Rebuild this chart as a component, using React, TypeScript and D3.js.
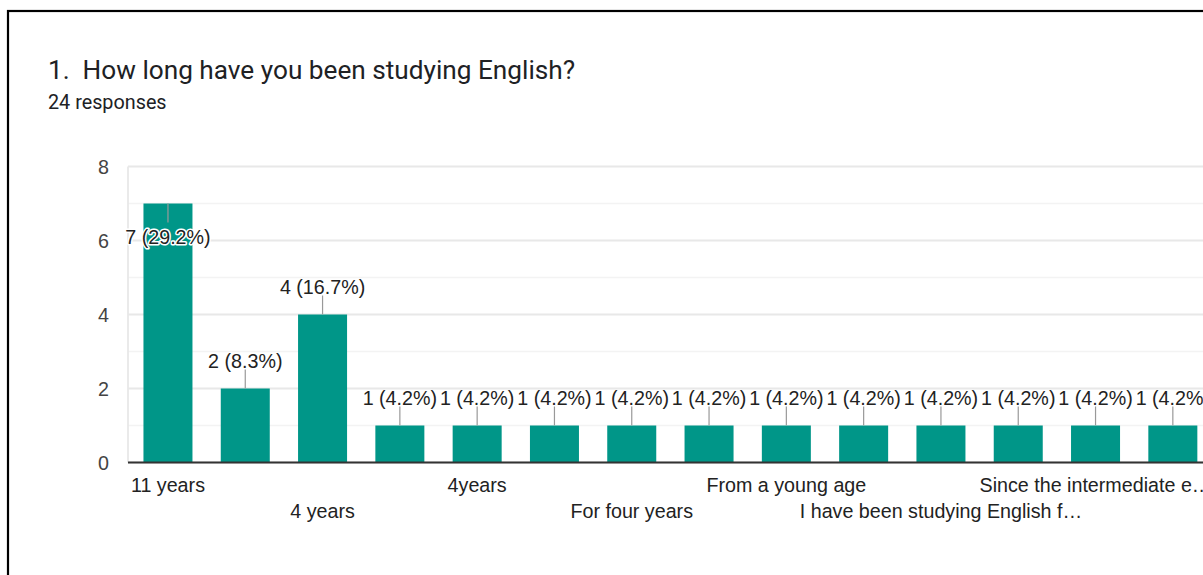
import React from "react";
import * as d3 from "d3";

// Data (Google Forms summary chart)
const title = "1.  How long have you been studying English?";
const subtitle = "24 responses";
const totalResponses = 24;
// Only the even-indexed category names are visible in the reference; the odd ones are hidden there.
const categories = [
  "11 years",
  "3 years",
  "4 years",
  "4 years and a half",
  "4years",
  "Eight years",
  "For four years",
  "Four years",
  "From a young age",
  "Half of my life",
  "I have been studying English f…",
  "More than ten years",
  "Since the intermediate e…",
  "Two years",
];
const values = [7, 2, 4, 1, 1, 1, 1, 1, 1, 1, 1, 1, 1, 1];
const majorTicks = [0, 2, 4, 6, 8];
const minorTicks = [1, 3, 5, 7];

const W = 1203;
const H = 575;
const chartFont = "'Liberation Sans', Arial, sans-serif";
const titleFont = "Roboto, 'Noto Sans', sans-serif";

export default function App() {
  const plotTop = 166.5;
  const plotBottom = 462.5;
  const plotLeft = 128;
  const plotRight = 1212.8;

  const y = d3.scaleLinear().domain([0, 8]).range([plotBottom, plotTop]);
  const x = d3
    .scaleBand<string>()
    .domain(categories)
    .range([plotLeft, plotRight])
    .paddingInner(0.366)
    .paddingOuter(0.2);

  const fmt = (v: number) => `${v} (${d3.format(".1f")((v / totalResponses) * 100)}%)`;
  const fs = 19.7;

  return (
    <svg
      width={W}
      height={H}
      style={{ position: "absolute", left: 0, top: 0, background: "#fff" }}
    >
      <rect x={0} y={0} width={W} height={H} fill="#fff" />
      {/* frame (cropped on right and bottom) */}
      <rect x={8} y={11} width={W + 20} height={H + 20} fill="none" stroke="#000" strokeWidth={2.2} />

      <text
        x={48}
        y={79}
        fontFamily={titleFont}
        fontSize={26.2}
        fill="#202124"
        style={{ whiteSpace: "pre" }}
      >
        {title}
      </text>
      <text x={48} y={109} fontFamily={titleFont} fontSize={19.8} fill="#202124">
        {subtitle}
      </text>

      {/* gridlines */}
      {minorTicks.map((t) => (
        <line key={"m" + t} x1={plotLeft} x2={plotRight} y1={y(t)} y2={y(t)} stroke="#f3f3f3" strokeWidth={1.5} />
      ))}
      {majorTicks.map((t) => (
        <line key={"M" + t} x1={plotLeft} x2={plotRight} y1={y(t)} y2={y(t)} stroke="#e8e8e8" strokeWidth={1.8} />
      ))}
      <line x1={plotLeft} x2={plotLeft} y1={plotTop} y2={plotBottom} stroke="#e8e8e8" strokeWidth={1.8} />

      {/* y tick labels */}
      {majorTicks.map((t) => (
        <text
          key={"yt" + t}
          x={109}
          y={y(t)}
          dy="0.36em"
          textAnchor="end"
          fontFamily={chartFont}
          fontSize={fs}
          fill="#444"
        >
          {t}
        </text>
      ))}

      {/* bars */}
      {categories.map((c, i) => (
        <rect
          key={"b" + i}
          x={x(c)}
          y={y(values[i])}
          width={x.bandwidth()}
          height={plotBottom - y(values[i])}
          fill="#009688"
        />
      ))}

      {/* baseline */}
      <line x1={plotLeft} x2={plotRight} y1={plotBottom} y2={plotBottom} stroke="#333" strokeWidth={2} />

      {/* annotations */}
      {categories.map((c, i) => {
        const cx = (x(c) as number) + x.bandwidth() / 2;
        const top = y(values[i]);
        const flip = top - 40 < plotTop;
        const stemY1 = flip ? top : top - 19;
        const stemY2 = flip ? top + 19 : top;
        const ty = flip ? top + 40 : top - 21;
        return (
          <g key={"a" + i}>
            <line x1={cx} x2={cx} y1={stemY1} y2={stemY2} stroke="#999" strokeWidth={1.2} />
            <text
              x={cx}
              y={ty}
              textAnchor="middle"
              fontFamily={chartFont}
              fontSize={fs}
              fill="#222"
              stroke={flip ? "#fff" : "none"}
              strokeWidth={flip ? 3 : 0}
              strokeLinejoin="round"
              style={{ paintOrder: "stroke" }}
            >
              {fmt(values[i])}
            </text>
          </g>
        );
      })}

      {/* x labels, staggered in two rows, every other category */}
      {categories.map((c, i) => {
        if (i % 2 !== 0) return null;
        const row = (i / 2) % 2;
        const cx = (x(c) as number) + x.bandwidth() / 2;
        return (
          <text
            key={"xl" + i}
            x={cx}
            y={row === 0 ? 492 : 518}
            textAnchor="middle"
            fontFamily={chartFont}
            fontSize={fs}
            fill="#222"
          >
            {c}
          </text>
        );
      })}
    </svg>
  );
}
